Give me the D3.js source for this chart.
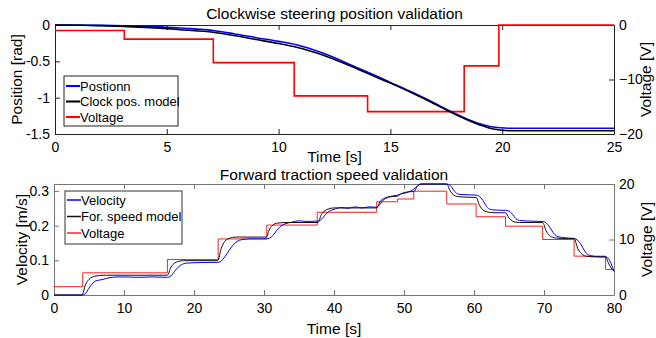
<!DOCTYPE html>
<html><head><meta charset="utf-8">
<script src="https://cdn.jsdelivr.net/npm/d3@7"></script>
<style>body{margin:0;background:#fff}svg{display:block;font-family:"Liberation Sans",Arial,sans-serif}</style>
</head><body><svg id="c" width="656" height="338"></svg>
<script>
// ---- Top chart data: Clockwise steering position validation ----
const posTime  = [0,2,3.1,5,5.6,7.07,8,9,10,10.8,12,13.6,14.5,15,16,17,17.5,18.4,19,19.5,19.9,20.3,25];
const posMeas  = [0,-0.005,-0.012,-0.03,-0.042,-0.075,-0.12,-0.175,-0.225,-0.272,-0.39,-0.6,-0.72,-0.79,-0.93,-1.08,-1.16,-1.29,-1.36,-1.4,-1.415,-1.42,-1.42];
const posModel = [0,-0.008,-0.02,-0.05,-0.065,-0.1,-0.145,-0.2,-0.255,-0.305,-0.415,-0.615,-0.735,-0.8,-0.94,-1.09,-1.17,-1.3,-1.375,-1.425,-1.445,-1.455,-1.455];
const steerVoltTime = [0,3.1,7.08,10.7,13.98,18.3,19.85,25];
const steerVolt     = [-1.0,-2.6,-6.9,-13.0,-15.9,-7.5,0,0];
const topXTicks = [0,5,10,15,20,25];
const topYTicks = [0,-0.5,-1,-1.5];
const topVTicks = [0,-10,-20];

// ---- Bottom chart data: Forward traction speed validation ----
const velTime = [0,4,4.5,5,5.5,6,6.5,7,7.5,8,9,10,12,14,16.2,16.7,17,17.5,18,18.5,19,20,22,23.4,23.9,24.4,25,25.5,26,26.5,27,28,30.3,30.8,31.3,31.8,32.3,33,34,35,36,37.7,38.2,38.7,39.2,40,41,42,43,44,45,46.1,46.6,47.1,47.6,48,49.1,49.6,50.2,51,51.4,51.9,52.4,53,54,55,56.1,56.6,57.1,57.6,58,59,60.3,60.8,61.3,61.8,62.3,63,64.5,65,65.5,66,66.5,67,68,69.8,70.3,70.8,71.3,71.8,72.5,73.5,74.3,74.8,75.3,75.8,76.3,77,78,78.8,79.2,79.6,80];
const velMeas = [0,0,0.004,0.02,0.033,0.041,0.043,0.045,0.048,0.05,0.052,0.052,0.051,0.052,0.051,0.055,0.062,0.075,0.085,0.09,0.092,0.093,0.094,0.094,0.098,0.11,0.128,0.142,0.152,0.158,0.16,0.162,0.162,0.164,0.172,0.186,0.197,0.205,0.21,0.214,0.212,0.213,0.218,0.23,0.24,0.247,0.252,0.25,0.254,0.251,0.254,0.253,0.262,0.275,0.28,0.284,0.288,0.292,0.294,0.3,0.305,0.314,0.32,0.32,0.32,0.32,0.32,0.316,0.302,0.292,0.29,0.289,0.288,0.284,0.272,0.255,0.247,0.245,0.244,0.242,0.232,0.22,0.215,0.214,0.213,0.212,0.208,0.196,0.18,0.17,0.166,0.164,0.163,0.158,0.145,0.127,0.116,0.112,0.11,0.11,0.105,0.09,0.068];
const velModel = [0,0,0.03,0.045,0.052,0.055,0.056,0.057,0.057,0.057,0.057,0.057,0.057,0.057,0.057,0.08,0.088,0.095,0.098,0.099,0.099,0.099,0.099,0.099,0.135,0.155,0.163,0.166,0.167,0.167,0.167,0.167,0.167,0.19,0.202,0.207,0.208,0.209,0.209,0.209,0.209,0.209,0.232,0.243,0.248,0.251,0.251,0.251,0.251,0.251,0.251,0.251,0.27,0.278,0.282,0.283,0.285,0.292,0.296,0.298,0.298,0.313,0.32,0.32,0.32,0.32,0.32,0.3,0.288,0.284,0.283,0.282,0.281,0.258,0.245,0.24,0.238,0.237,0.237,0.222,0.213,0.21,0.209,0.209,0.209,0.209,0.185,0.171,0.166,0.164,0.163,0.163,0.163,0.135,0.12,0.113,0.111,0.11,0.11,0.11,0.092,0.078,0.068];
const fwdVoltTime = [0,4.1,16.2,23.45,30.4,37.6,46.1,49.1,51.4,56.1,60.3,64.5,69.8,74.3,78.8,80];
const fwdVolt     = [1.5,4.0,6.4,10.1,12.6,14.9,16.8,17.3,18.7,16.4,14.1,12.4,10.0,7.0,4.6,4.6];
const botXTicks = [0,10,20,30,40,50,60,70,80];
const botYTicks = [0,0.1,0.2,0.3];
const botVTicks = [0,10,20];

const svg = d3.select("#c");
const FS = 14, TFS = 15.5, LFS = 15.5;

function panel(o){
  const g = svg.append("g");
  const x = d3.scaleLinear().domain(o.xDom).range([o.x0,o.x1]);
  const y = d3.scaleLinear().domain(o.yDom).range([o.y1,o.y0]);
  const y2 = d3.scaleLinear().domain(o.vDom).range([o.y1,o.y0]);
  const clipId = o.id+"clip";
  svg.append("clipPath").attr("id",clipId).append("rect")
    .attr("x",o.x0-2).attr("y",o.y0-2).attr("width",o.x1-o.x0+4).attr("height",o.y1-o.y0+4);

  const ax = g.append("g");
  const bottom = d3.axisBottom(x).tickValues(o.xTicks).tickSize(-5).tickSizeOuter(0).tickPadding(8).tickFormat(d3.format("d"));
  const top = d3.axisTop(x).tickValues(o.xTicks).tickSize(-5).tickSizeOuter(0).tickFormat("");
  const left = d3.axisLeft(y).tickValues(o.yTicks).tickSize(-5).tickSizeOuter(0).tickPadding(5).tickFormat(o.yFmt);
  const right = d3.axisRight(y2).tickValues(o.vTicks).tickSize(-5).tickSizeOuter(0).tickPadding(5).tickFormat(d3.format("d"));
  [[bottom,`translate(0,${o.y1})`],[top,`translate(0,${o.y0})`],[left,`translate(${o.x0},0)`],[right,`translate(${o.x1},0)`]].forEach(([a,tr])=>{
    const s = ax.append("g").attr("transform",tr).call(a);
    s.selectAll("text").attr("font-size",FS).attr("font-family","Liberation Sans, Arial, sans-serif").attr("fill","#000");
    s.select(".domain").attr("stroke",o.axisCol).attr("stroke-width",1);
    s.selectAll(".tick line").attr("stroke",o.axisCol);
  });

  const vData = o.vTime.map((t,i)=>[t,o.volt[i]]);
  g.append("path").attr("clip-path",`url(#${clipId})`)
    .attr("d", d3.line().curve(d3.curveStepAfter).x(d=>x(d[0])).y(d=>y2(d[1]))(vData))
    .attr("fill","none").attr("stroke",o.red).attr("stroke-width",o.lw);
  const line = d3.line().curve(d3.curveMonotoneX).x(d=>x(d[0])).y(d=>y(d[1]));
  g.append("path").attr("clip-path",`url(#${clipId})`)
    .attr("d", line(o.t.map((t,i)=>[t,o.meas[i]])))
    .attr("fill","none").attr("stroke","#0000ff").attr("stroke-width",o.lw);
  g.append("path").attr("clip-path",`url(#${clipId})`)
    .attr("d", line(o.t.map((t,i)=>[t,o.model[i]])))
    .attr("fill","none").attr("stroke",o.black).attr("stroke-width",o.lw);

  g.append("text").attr("x",(o.x0+o.x1)/2).attr("y",o.titleY).attr("text-anchor","middle").attr("font-size",TFS).text(o.title);
  g.append("text").attr("x",(o.x0+o.x1)/2).attr("y",o.xlabY).attr("text-anchor","middle").attr("font-size",LFS).text("Time [s]");
  g.append("text").attr("transform",`translate(${o.ylabX},${(o.y0+o.y1)/2}) rotate(-90)`).attr("text-anchor","middle").attr("font-size",LFS).text(o.ylab);
  g.append("text").attr("transform",`translate(${o.vlabX},${(o.y0+o.y1)/2}) rotate(-90)`).attr("text-anchor","middle").attr("font-size",LFS).text("Voltage [V]");
  const L = o.leg;
  const lg = g.append("g");
  lg.append("rect").attr("x",L.x).attr("y",L.y).attr("width",L.w).attr("height",L.h).attr("fill","#fff").attr("stroke",o.legStroke).attr("stroke-width",1);
  const items = [[o.names[0],"#0000ff"],[o.names[1],o.black],[o.names[2],o.red]];
  items.forEach((it,i)=>{
    const yy = L.y + L.pad + i*L.dy;
    lg.append("line").attr("x1",L.x+2).attr("x2",L.x+16).attr("y1",yy).attr("y2",yy).attr("stroke",it[1]).attr("stroke-width",o.lw+0.5);
    lg.append("text").attr("x",L.x+16).attr("y",yy+4.5).attr("font-size",13).text(it[0]);
  });
}

panel({id:"top", xDom:[0,25], yDom:[-1.5,0], vDom:[-20,0], x0:55, x1:614, y0:25, y1:134,
  t:posTime, meas:posMeas, model:posModel, vTime:steerVoltTime, volt:steerVolt,
  xTicks:topXTicks, yTicks:topYTicks, vTicks:topVTicks, yFmt:d=>d===0?"0":String(d),
  red:"#ff0000", black:"#000", lw:1.6, axisCol:"#222", legStroke:"#222",
  title:"Clockwise steering position validation", titleY:18.5, xlabY:162, ylab:"Position [rad]", ylabX:22, vlabX:651,
  names:["Postionn","Clock pos. model","Voltage"], leg:{x:64,y:76,w:114,h:50,pad:10,dy:15.5}});

panel({id:"bot", xDom:[0,80], yDom:[0,0.32], vDom:[0,20], x0:54, x1:614, y0:184, y1:295,
  t:velTime, meas:velMeas, model:velModel, vTime:fwdVoltTime, volt:fwdVolt,
  xTicks:botXTicks, yTicks:botYTicks, vTicks:botVTicks, yFmt:d=>d===0?"0":String(d),
  red:"#ff2020", black:"#111", lw:1, axisCol:"#777", legStroke:"#333",
  title:"Forward traction speed validation", titleY:179.5, xlabY:334, ylab:"Velocity [m/s]", ylabX:27, vlabX:652,
  names:["Velocity","For. speed model","Voltage"], leg:{x:65,y:191,w:117,h:53,pad:9,dy:16.5}});
</script></body></html>
